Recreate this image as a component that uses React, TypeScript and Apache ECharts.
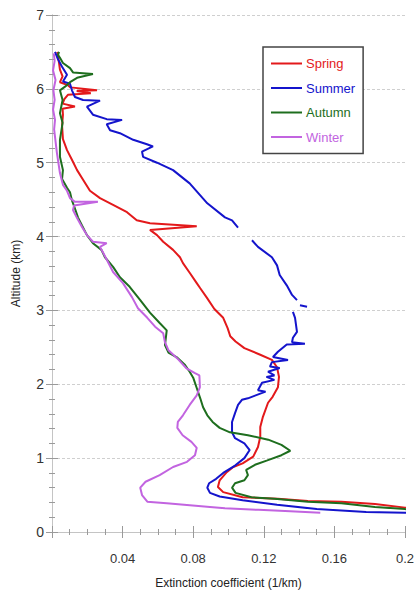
import React, { useEffect, useRef } from "react";
import * as echarts from "echarts";

// Seasonal mean extinction profiles: [extinction (1/km), altitude (km)], top to bottom.
const springProfile: [number, number][] = [
  [0.003, 6.5], [0.0035, 6.42], [0.004, 6.35], [0.0045, 6.26], [0.006, 6.17], [0.0045, 6.09],
  [0.009, 6.05], [0.0105, 6.02], [0.0255, 5.98], [0.014, 5.97], [0.022, 5.94], [0.009, 5.92],
  [0.007, 5.86], [0.006, 5.8], [0.013, 5.76], [0.006, 5.73], [0.0062, 5.65], [0.0057, 5.5],
  [0.0062, 5.32], [0.0085, 5.17], [0.0113, 5.04], [0.0142, 4.9], [0.0176, 4.77], [0.0215, 4.62],
  [0.0272, 4.52], [0.0346, 4.43], [0.0425, 4.33], [0.048, 4.22], [0.0555, 4.18], [0.082, 4.14],
  [0.0555, 4.09], [0.0595, 4.02], [0.063, 3.93], [0.0686, 3.82], [0.0725, 3.72], [0.0742, 3.64],
  [0.078, 3.51], [0.082, 3.37], [0.084, 3.3], [0.0878, 3.17], [0.092, 3.02], [0.097, 2.9],
  [0.0995, 2.76], [0.101, 2.65], [0.104, 2.58], [0.109, 2.49], [0.118, 2.4], [0.1246, 2.33],
  [0.1275, 2.23], [0.1286, 2.1], [0.128, 1.96], [0.125, 1.83], [0.1224, 1.75], [0.1195, 1.56],
  [0.118, 1.42], [0.118, 1.29], [0.1167, 1.15], [0.114, 1.02], [0.108, 0.93], [0.1027, 0.88],
  [0.099, 0.81], [0.095, 0.7], [0.094, 0.61], [0.097, 0.54], [0.108, 0.47], [0.128, 0.45],
  [0.145, 0.42], [0.164, 0.41], [0.183, 0.38], [0.2, 0.33], [0.215, 0.3],
];

// null marks a break in the record
const summerProfile: ([number, number] | null)[] = [
  [0.0017, 6.5], [0.0034, 6.4], [0.0057, 6.3], [0.0085, 6.19], [0.0062, 6.1], [0.0102, 6.07],
  [0.0113, 5.98], [0.013, 5.89], [0.0176, 5.85], [0.0272, 5.84], [0.0198, 5.76], [0.0232, 5.65],
  [0.031, 5.59], [0.0397, 5.58], [0.031, 5.52], [0.0329, 5.44], [0.0385, 5.4], [0.046, 5.31],
  [0.0538, 5.25], [0.0572, 5.22], [0.051, 5.15], [0.0516, 5.08], [0.0595, 5.0], [0.0686, 4.9],
  [0.078, 4.72], [0.088, 4.45], [0.098, 4.26], [0.102, 4.22], [0.1054, 4.12], null,
  [0.1133, 3.95], [0.1167, 3.86], [0.1246, 3.72], [0.1275, 3.61], [0.129, 3.48], [0.133, 3.34],
  [0.136, 3.21], [0.1388, 3.14], null, [0.1405, 3.07], [0.1445, 3.05], null,
  [0.1365, 2.98], [0.1377, 2.9], [0.1388, 2.71], [0.1365, 2.63], [0.136, 2.57], [0.1433, 2.55],
  [0.133, 2.54], [0.128, 2.44], [0.1252, 2.37], [0.1337, 2.33], [0.1246, 2.3], [0.1235, 2.24],
  [0.129, 2.22], [0.1224, 2.17], [0.126, 2.12], [0.1215, 2.1], [0.126, 2.06], [0.119, 2.02],
  [0.1167, 1.92], [0.121, 1.9], [0.111, 1.81], [0.1076, 1.79], [0.1054, 1.72], [0.1037, 1.61],
  [0.102, 1.49], [0.102, 1.35], [0.1037, 1.27], [0.109, 1.2], [0.112, 1.11], [0.109, 1.0],
  [0.1037, 0.9], [0.097, 0.8], [0.093, 0.72], [0.089, 0.66], [0.088, 0.6], [0.0895, 0.53],
  [0.095, 0.48], [0.108, 0.43], [0.1275, 0.37], [0.15, 0.31], [0.178, 0.27], [0.2, 0.26],
  [0.215, 0.25],
];

const autumnProfile: [number, number][] = [
  [0.004, 6.5], [0.0034, 6.46], [0.0045, 6.42], [0.0062, 6.35], [0.0102, 6.28], [0.012, 6.22],
  [0.0232, 6.2], [0.0142, 6.15], [0.0102, 6.09], [0.0074, 6.03], [0.0045, 5.98], [0.006, 5.85],
  [0.0045, 5.67], [0.006, 5.54], [0.0045, 5.31], [0.0045, 5.08], [0.0062, 4.9], [0.0057, 4.78],
  [0.0085, 4.66], [0.0102, 4.6], [0.0113, 4.49], [0.013, 4.38], [0.0147, 4.26], [0.017, 4.15],
  [0.0198, 4.02], [0.0232, 3.91], [0.028, 3.82], [0.03, 3.72], [0.0346, 3.59], [0.0385, 3.45],
  [0.044, 3.32], [0.05, 3.14], [0.0555, 2.97], [0.061, 2.83], [0.065, 2.73], [0.064, 2.53],
  [0.066, 2.43], [0.071, 2.36], [0.0754, 2.26], [0.078, 2.17], [0.08, 2.09], [0.082, 1.95],
  [0.084, 1.81], [0.0856, 1.69], [0.088, 1.58], [0.091, 1.49], [0.095, 1.41], [0.1008, 1.35],
  [0.111, 1.31], [0.1225, 1.25], [0.13, 1.18], [0.135, 1.1], [0.13, 1.04], [0.122, 0.97],
  [0.115, 0.91], [0.11, 0.84], [0.111, 0.77], [0.109, 0.7], [0.1037, 0.66], [0.102, 0.6],
  [0.104, 0.53], [0.113, 0.47], [0.126, 0.45], [0.145, 0.41], [0.164, 0.39], [0.183, 0.34],
  [0.2, 0.31], [0.215, 0.29],
];

const winterProfile: [number, number][] = [
  [0.001, 6.48], [0.0015, 6.38], [0.0006, 6.25], [0.002, 6.12], [0.0008, 5.98], [0.0015, 5.85],
  [0.0006, 5.72], [0.0017, 5.58], [0.0012, 5.45], [0.0028, 5.13], [0.0045, 4.86], [0.0062, 4.7],
  [0.0085, 4.62], [0.0102, 4.52], [0.013, 4.47], [0.026, 4.47], [0.0125, 4.42], [0.0119, 4.36],
  [0.0142, 4.25], [0.017, 4.13], [0.0198, 4.02], [0.0232, 3.93], [0.031, 3.91], [0.0272, 3.86],
  [0.029, 3.78], [0.0312, 3.68], [0.0346, 3.52], [0.0402, 3.37], [0.0453, 3.18], [0.0487, 3.03],
  [0.054, 2.9], [0.0584, 2.78], [0.063, 2.69], [0.064, 2.57], [0.066, 2.46], [0.071, 2.35],
  [0.076, 2.22], [0.081, 2.15], [0.0835, 2.12], [0.0838, 1.96], [0.082, 1.85], [0.078, 1.72],
  [0.0742, 1.58], [0.0713, 1.49], [0.071, 1.41], [0.074, 1.31], [0.079, 1.22], [0.082, 1.14],
  [0.081, 1.04], [0.0765, 0.95], [0.0686, 0.88], [0.061, 0.77], [0.053, 0.68], [0.05, 0.6],
  [0.051, 0.5], [0.054, 0.41], [0.065, 0.39], [0.0895, 0.34], [0.098, 0.32], [0.117, 0.3],
  [0.135, 0.28], [0.152, 0.26],
];

const seasonNames = ["Spring", "Summer", "Autumn", "Winter"];
const seasonColors = ["#e3191b", "#1414cc", "#1e6e1e", "#c264e0"];

const FONT = "Liberation Sans, Arial, Helvetica, sans-serif";
// thin bar used as the legend's line sample
const LEGEND_LINE = "path://M0,0H31V2H0Z";

export default function App() {
  const ref = useRef<HTMLDivElement>(null);

  useEffect(() => {
    if (!ref.current) return;
    const chart = echarts.init(ref.current, undefined, { renderer: "svg" });

    const profiles = [
      springProfile,
      summerProfile.map((p) => (p === null ? "-" : p)),
      autumnProfile,
      winterProfile,
    ];

    const frameLine = { show: true, lineStyle: { color: "#c4c4c4", width: 1 } };
    const tickStyle = { color: "#9a9a9a", width: 1 };

    const option: any = {
      animation: false,
      backgroundColor: "#ffffff",
      textStyle: { fontFamily: FONT },
      grid: { left: 52, right: 12, top: 15, bottom: 64, outerBoundsMode: "none" },
      legend: {
        orient: "vertical",
        left: 263,
        top: 47,
        padding: [10, 8, 10, 8],
        itemWidth: 31,
        itemHeight: 10,
        itemGap: 11.5,
        backgroundColor: "#ffffff",
        borderColor: "#444444",
        borderWidth: 1.5,
        borderRadius: 0,
        textStyle: { fontSize: 13, fontFamily: FONT, padding: [0, 0, 0, -1] },
        data: seasonNames.map((name, i) => ({
          name,
          icon: LEGEND_LINE,
          itemStyle: { color: seasonColors[i], borderWidth: 0 },
          textStyle: { color: seasonColors[i] },
        })),
        selectedMode: false,
      },
      xAxis: [
        {
          type: "value",
          position: "bottom",
          min: 0,
          max: 0.2,
          interval: 0.04,
          axisLine: frameLine,
          axisTick: { show: true, inside: true, length: 6, lineStyle: tickStyle },
          minorTick: { show: true, splitNumber: 4, length: 3, lineStyle: tickStyle },
          axisLabel: {
            margin: 20,
            fontSize: 13,
            color: "#333333",
            fontFamily: FONT,
            formatter: (v: number) => (v === 0 ? "" : String(+v.toFixed(2))),
          },
          splitLine: { show: false },
          name: "Extinction coefficient (1/km)",
          nameLocation: "middle",
          nameGap: 45,
          nameTextStyle: { fontSize: 12, color: "#222222", fontFamily: FONT },
        },
        {
          type: "value",
          position: "top",
          min: 0,
          max: 0.2,
          interval: 0.04,
          axisLine: frameLine,
          axisTick: { show: true, inside: true, length: 6, lineStyle: tickStyle },
          minorTick: { show: true, splitNumber: 4, length: 3, lineStyle: tickStyle },
          axisLabel: { show: false },
          splitLine: { show: false },
        },
      ],
      yAxis: [
        {
          type: "value",
          position: "left",
          min: 0,
          max: 7,
          interval: 1,
          axisLine: frameLine,
          axisTick: { show: true, inside: true, length: 6, lineStyle: tickStyle },
          minorTick: { show: true, splitNumber: 5, length: 3, lineStyle: tickStyle },
          axisLabel: { margin: 8, fontSize: 14, color: "#333333", fontFamily: FONT },
          splitLine: { show: true, lineStyle: { color: "#cfcfcf", width: 1, type: [3, 2] } },
          name: "Altitude (km)",
          nameLocation: "middle",
          nameGap: 30,
          nameTextStyle: { fontSize: 12, color: "#222222", fontFamily: FONT },
        },
        {
          type: "value",
          position: "right",
          min: 0,
          max: 7,
          interval: 1,
          axisLine: frameLine,
          axisTick: { show: true, inside: true, length: 6, lineStyle: tickStyle },
          minorTick: { show: true, splitNumber: 5, length: 3, lineStyle: tickStyle },
          axisLabel: { show: false },
          splitLine: { show: false },
        },
      ],
      series: seasonNames.map((name, i) => ({
        name,
        type: "line",
        xAxisIndex: 0,
        yAxisIndex: 0,
        data: profiles[i],
        symbol: "none",
        showSymbol: false,
        connectNulls: false,
        clip: true,
        smooth: false,
        color: seasonColors[i],
        lineStyle: { color: seasonColors[i], width: 2 },
        emphasis: { disabled: true },
      })),
    };

    chart.setOption(option);
    return () => chart.dispose();
  }, []);

  return (
    <div
      ref={ref}
      style={{ position: "fixed", left: 0, top: 0, width: 417, height: 596, background: "#fff" }}
    />
  );
}
